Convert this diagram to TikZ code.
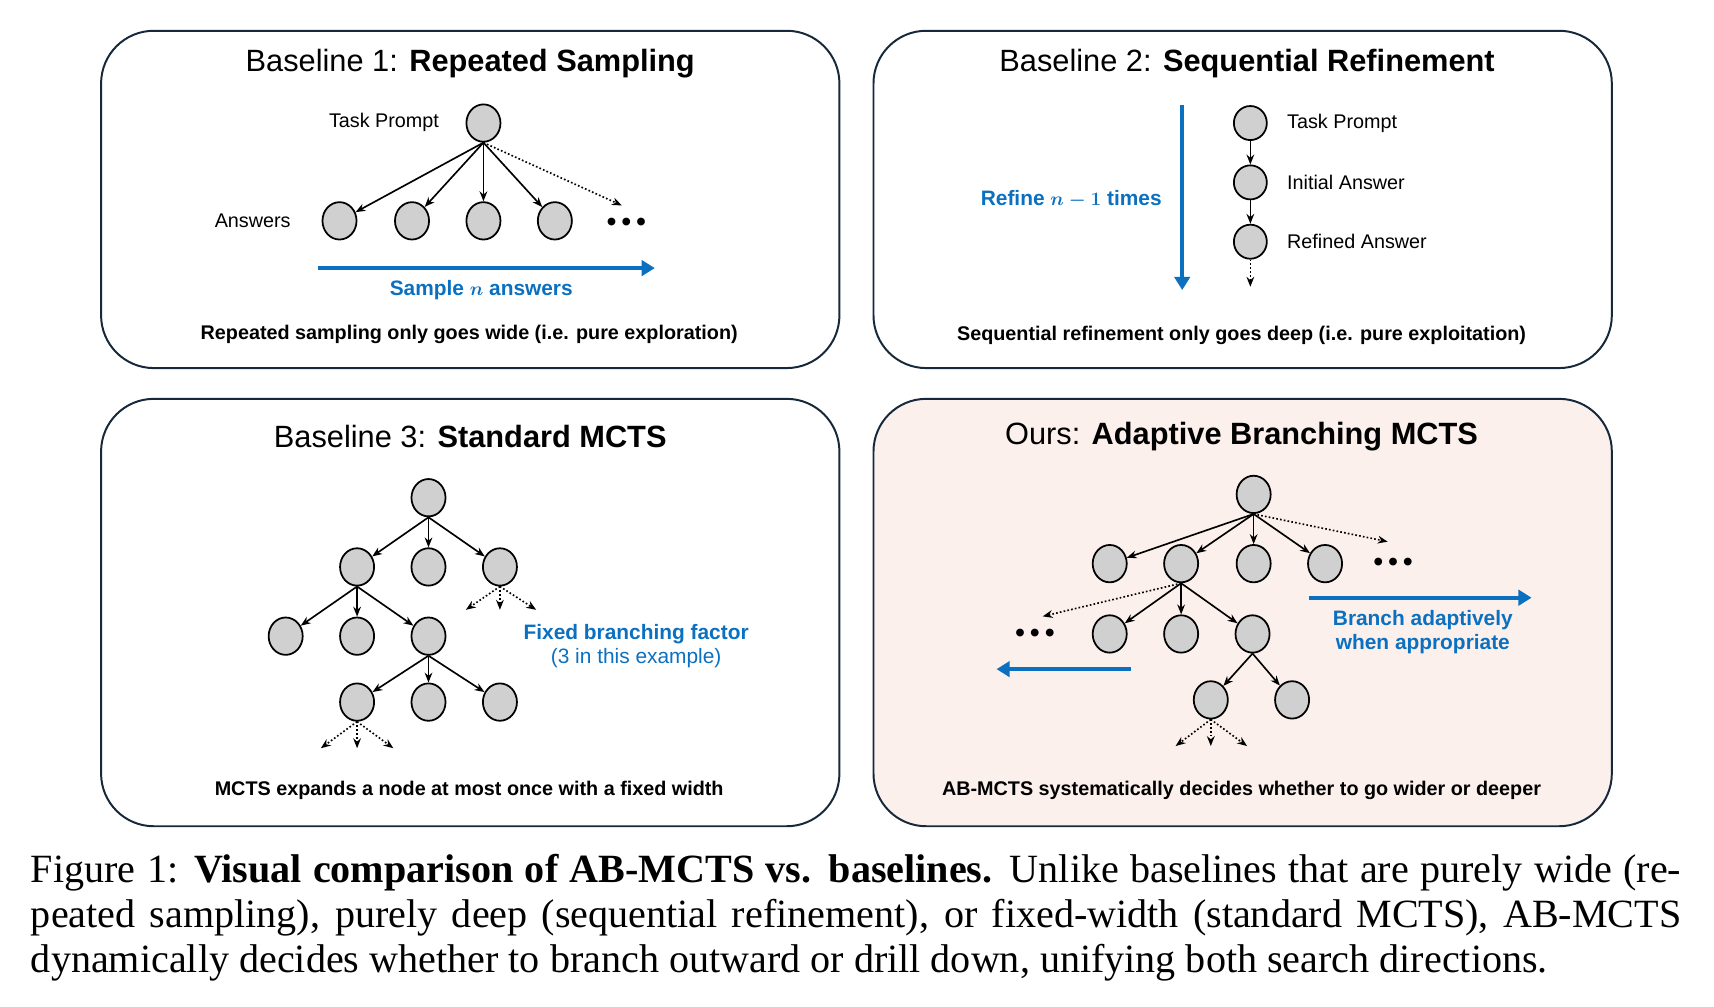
\documentclass[tikz,border=0pt]{standalone}
\usepackage{amsmath}
\usepackage{fontspec}
\setmainfont{Liberation Serif}
\newfontfamily\plex{Liberation Sans}
\usetikzlibrary{shapes.geometric,arrows.meta}
\definecolor{nodegray}{HTML}{D0D0D0}
\definecolor{boxline}{HTML}{16283A}
\definecolor{ourblue}{HTML}{0B70C0}
\definecolor{ourpink}{HTML}{FCF0EC}
\tikzset{
  panel/.style={draw=boxline, line width=1.8pt, rounded corners=48pt},
  tnode/.style={ellipse, draw, line width=1.6pt, fill=nodegray, minimum width=31pt, minimum height=34pt, inner sep=0pt},
  edge/.style={line width=1.5pt, -{Stealth[length=9pt,width=7pt]}},
  dotedge/.style={edge, dotted},
  bigarrow/.style={draw=ourblue, line width=3.5pt, -{Triangle[length=12pt,width=14pt]}},
  title/.style={font=\plex\fontsize{28}{32}\selectfont},
  label/.style={font=\plex\fontsize{18}{22}\selectfont},
  note/.style={font=\plex\bfseries\fontsize{18}{22}\selectfont},
  bluenote/.style={font=\plex\bfseries\fontsize{19}{24}\selectfont, text=ourblue, align=center},
  dots/.style={font=\plex\fontsize{26}{26}\selectfont}
}
\newcommand{\threedots}{\textbullet\,\textbullet\,\textbullet}
\begin{document}
\begin{tikzpicture}[x=1pt,y=-1pt]
            \useasboundingbox (0,0) rectangle (1560,916);
            % panels
            \draw[panel] (92,28) rectangle (764,335);
            \draw[panel] (795,28) rectangle (1467,335);
            \draw[panel] (92,363) rectangle (764,752);
            \draw[panel, fill=ourpink] (795,363) rectangle (1467,752);

            % Baseline 1
            \node[title] (t1) at (428,58) {Baseline 1: \textbf{Repeated Sampling}};
            \node[tnode] (p) at (440,112) {};
            \node[label, anchor=east] (pl) at (403,111) {Task Prompt};
            \node[label] (al) at (230,201) {Answers};
            \foreach \i/\x in {1/309,2/375,3/440,4/505} {
              \node[tnode] (a\i) at (\x,201) {};
              \draw[edge] (p.south) -- (a\i);
            }
            \node[dots] (ad) at (570,205) {\threedots};
            \coordinate (ae) at (566,187);
            \draw[dotedge] (p.south) -- (ae);
            \coordinate (s1) at (289,244);
            \coordinate (s2) at (596,244);
            \draw[bigarrow] (s1) -- (s2);
            \node[bluenote] (sn) at (438,264) {Sample $\boldsymbol{n}$ answers};
            \node[note] (b1) at (427,304) {Repeated sampling only goes wide (i.e. pure exploration)};

            % Baseline 2
            \node[title] (t2) at (1135,58) {Baseline 2: \textbf{Sequential Refinement}};
            \node[tnode, minimum width=30pt, minimum height=31pt] (r1) at (1138,112) {};
            \node[tnode, minimum width=30pt, minimum height=31pt] (r2) at (1138,166) {};
            \node[tnode, minimum width=30pt, minimum height=31pt] (r3) at (1138,220) {};
            \node[label, anchor=west] at (1168,112) {Task Prompt};
            \node[label, anchor=west] at (1168,166) {Initial Answer};
            \node[label, anchor=west] at (1168,220) {Refined Answer};
            \draw[edge] (r1) -- (r2);
            \draw[edge] (r2) -- (r3);
            \coordinate (re) at (1138,261);
            \draw[dotedge] (r3) -- (re);
            \coordinate (v1) at (1076,96);
            \coordinate (v2) at (1076,264);
            \draw[bigarrow] (v1) -- (v2);
            \node[bluenote] (rn) at (975,181) {Refine $\boldsymbol{n-1}$ times};
            \node[note] (b2) at (1130,305) {Sequential refinement only goes deep (i.e. pure exploitation)};

            % Baseline 3
            \node[title] (t3) at (428,397) {Baseline 3: \textbf{Standard MCTS}};
            \node[tnode] (m) at (390,453) {};
            \foreach \i/\x in {1/325,2/390,3/455} {
              \node[tnode] (m\i) at (\x,516) {};
              \draw[edge] (m.south) -- (m\i);
            }
            \foreach \i/\x in {1/260,2/325,3/390} {
              \node[tnode] (m1\i) at (\x,579) {};
              \draw[edge] (m1.south) -- (m1\i);
            }
            \foreach \i/\x in {1/325,2/390,3/455} {
              \node[tnode] (m13\i) at (\x,639) {};
              \draw[edge] (m13.south) -- (m13\i);
            }
            \foreach \i/\x in {1/424,2/455,3/488} {
              \coordinate (e3\i) at (\x,555);
              \draw[dotedge] (m3.south) -- (e3\i);
            }
            \foreach \i/\x in {1/292,2/325,3/358} {
              \coordinate (e131\i) at (\x,681);
              \draw[dotedge] (m131.south) -- (e131\i);
            }
            \node[bluenote] (fb) at (579,588) {Fixed branching factor\\[-2pt]{\mdseries (3 in this example)}};
            \node[note] (b3) at (427,719) {MCTS expands a node at most once with a fixed width};

            % Ours
            \node[title] (t4) at (1130,397) {Ours: \textbf{Adaptive Branching MCTS}};
            \node[tnode] (o) at (1141,450) {};
            \foreach \i/\x in {1/1010,2/1075,3/1141,4/1206} {
              \node[tnode] (o\i) at (\x,513) {};
              \draw[edge] (o.south) -- (o\i);
            }
            \coordinate (oe) at (1263,493);
            \draw[dotedge] (o.south) -- (oe);
            \node[dots] (od) at (1268,514) {\threedots};
            \foreach \i/\x in {1/1010,2/1075,3/1140} {
              \node[tnode] (o2\i) at (\x,577) {};
              \draw[edge] (o2.south) -- (o2\i);
            }
            \coordinate (o2e) at (949,561);
            \draw[dotedge] (o2.south) -- (o2e);
            \node[dots] (o2d) at (942,579) {\threedots};
            \node[tnode] (o231) at (1102,637) {};
            \node[tnode] (o232) at (1176,637) {};
            \draw[edge] (o23.south) -- (o231);
            \draw[edge] (o23.south) -- (o232);
            \foreach \i/\x in {1/1070,2/1102,3/1135} {
              \coordinate (e231\i) at (\x,679);
              \draw[dotedge] (o231.south) -- (e231\i);
            }
            \coordinate (w1) at (1029,609);
            \coordinate (w2) at (907,609);
            \draw[bigarrow] (w1) -- (w2);
            \coordinate (w3) at (1191,544);
            \coordinate (w4) at (1394,544);
            \draw[bigarrow] (w3) -- (w4);
            \node[bluenote] (ba) at (1295,575) {Branch adaptively\\[-2pt]when appropriate};
            \node[note] (b4) at (1130,719) {AB-MCTS systematically decides whether to go wider or deeper};

            % caption
            \node[anchor=north west, text width=1502pt, align=justify, inner sep=0pt, font=\fontsize{36.5}{41}\selectfont] (cap) at (28,777) {Figure 1: \textbf{Visual comparison of AB-MCTS vs. baselines.} Unlike baselines that are purely wide (repeated sampling), purely deep (sequential refinement), or fixed-width (standard MCTS), AB-MCTS dynamically decides whether to branch outward or drill down, unifying both search directions.};
          \end{tikzpicture}
\end{document}
